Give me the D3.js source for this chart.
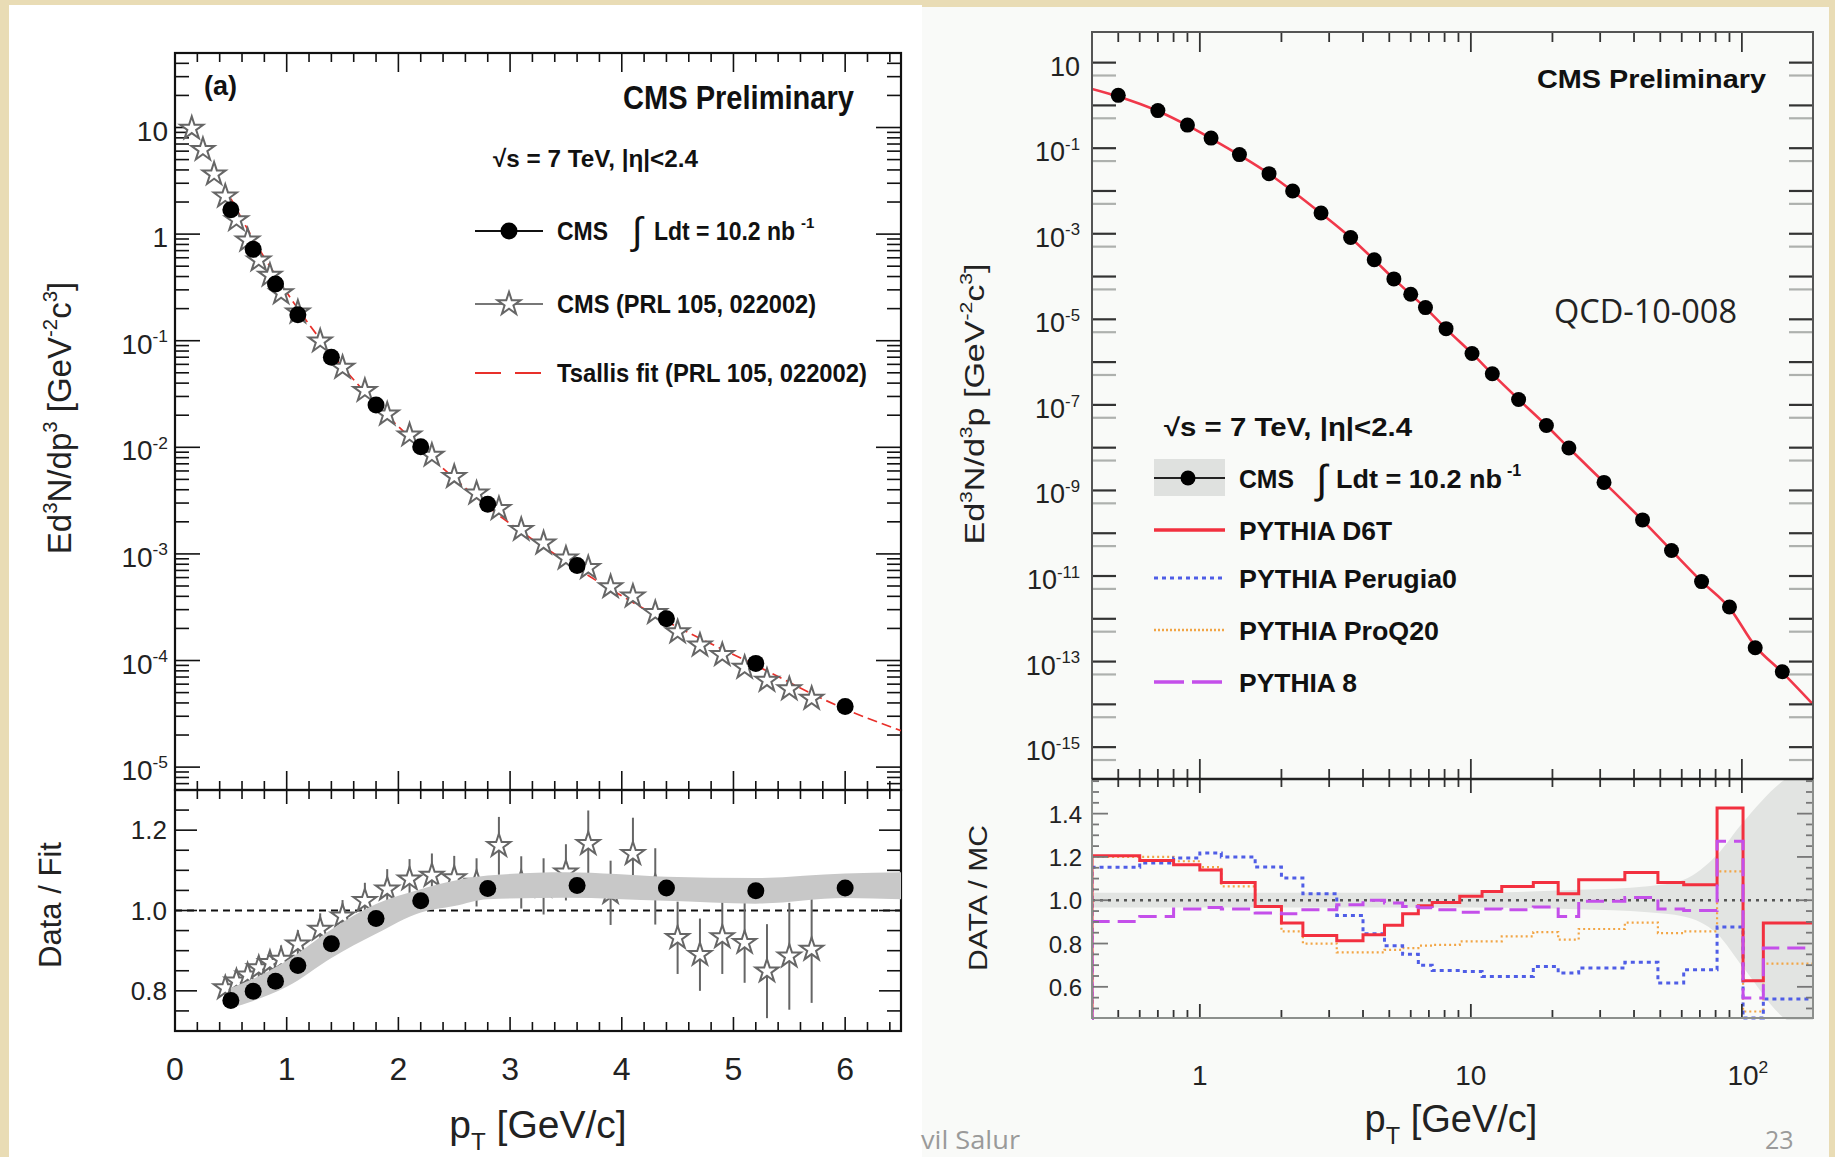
<!DOCTYPE html>
<html>
<head>
<meta charset="utf-8">
<script src="https://cdn.jsdelivr.net/npm/d3@7"></script>
<style>
  html, body { margin: 0; padding: 0; background: #e9dcb5; }
  svg { display: block; }
</style>
</head>
<body>
<svg id="chart" width="1835" height="1157"></svg>
<script>
// ---------- left panel (a): new CMS points, PRL 105 points, Tsallis fit ----------
const cmsPt = [0.5, 0.7, 0.9, 1.1, 1.4, 1.8, 2.2, 2.8, 3.6, 4.4, 5.2, 6.0];
const cmsYield = [1.69, 0.72, 0.34, 0.175, 0.070, 0.025, 0.0101, 0.00293, 7.8e-4, 2.47e-4, 9.4e-5, 3.7e-5];
const cmsOverFit = [0.776, 0.799, 0.824, 0.863, 0.917, 0.98, 1.024, 1.055, 1.062, 1.056, 1.049, 1.056];

const prlPt = [0.15, 0.25, 0.35, 0.45, 0.55, 0.65, 0.75, 0.85, 0.95, 1.1, 1.3, 1.5, 1.7, 1.9, 2.1, 2.3, 2.5,
  2.7, 2.9, 3.1, 3.3, 3.5, 3.7, 3.9, 4.1, 4.3, 4.5, 4.7, 4.9, 5.1, 5.3, 5.5, 5.7];
const prlYield = [9.8, 6.2, 3.65, 2.26, 1.36, 0.875, 0.57, 0.41, 0.28, 0.185, 0.099, 0.056, 0.034, 0.0204,
  0.013, 0.0084, 0.0053, 0.0037, 0.00265, 0.00169, 0.00126, 9.1e-4, 7.4e-4, 4.9e-4, 4.0e-4, 2.8e-4,
  1.85e-4, 1.39e-4, 1.13e-4, 8.6e-5, 6.5e-5, 5.4e-5, 4.4e-5];

const prlRatioPt = [0.45, 0.55, 0.65, 0.75, 0.85, 0.95, 1.1, 1.3, 1.5, 1.7, 1.9, 2.1, 2.3, 2.5, 2.7, 2.9,
  3.1, 3.3, 3.5, 3.7, 3.9, 4.1, 4.3, 4.5, 4.7, 4.9, 5.1, 5.3, 5.5, 5.7];
const prlRatio = [0.807, 0.824, 0.839, 0.857, 0.87, 0.878, 0.916, 0.953, 0.986, 1.024, 1.053, 1.078, 1.087,
  1.081, 1.07, 1.161, 1.07, 1.06, 1.095, 1.166, 1.044, 1.141, 1.06, 0.932, 0.89, 0.934, 0.92, 0.849, 0.886, 0.903];
const prlRatioErr = [0.03, 0.03, 0.03, 0.03, 0.03, 0.035, 0.035, 0.04, 0.04, 0.045, 0.05, 0.05, 0.055, 0.055,
  0.06, 0.072, 0.065, 0.07, 0.07, 0.083, 0.08, 0.09, 0.095, 0.09, 0.09, 0.092, 0.1, 0.117, 0.133, 0.133];

const fitPt = [0.5, 0.7, 0.9, 1.1, 1.4, 1.8, 2.2, 2.8, 3.6, 4.4, 5.2, 6.0, 6.5];
const fitYield = [2.15, 0.9, 0.41, 0.2, 0.076, 0.0255, 0.0099, 0.00278, 7.3e-4, 2.34e-4, 9.0e-5, 3.5e-5, 2.2e-5];

const fitBandPt = [0.5, 0.7, 1.0, 1.4, 1.8, 2.2, 2.5, 2.8, 3.5, 4.4, 5.2, 6.0, 6.5];
const fitBandLo = [0.757, 0.775, 0.81, 0.882, 0.942, 0.995, 1.011, 1.028, 1.032, 1.024, 1.017, 1.031, 1.028];
const fitBandHi = [0.807, 0.83, 0.875, 0.953, 1.016, 1.053, 1.074, 1.087, 1.095, 1.084, 1.081, 1.092, 1.095];

// ---------- right panel: QCD-10-008 spectrum and PYTHIA tunes ----------
const qcdPt = [0.5, 0.7, 0.9, 1.1, 1.4, 1.8, 2.2, 2.8, 3.6, 4.4, 5.2, 6.0, 6.8, 8.1, 10.1, 12, 15, 19, 23, 31,
  43, 55, 71, 90, 112, 141];
const qcdYield = [1.72, 0.757, 0.347, 0.172, 0.0708, 0.0254, 0.0100, 3.05e-3, 8.15e-4, 2.47e-4, 8.8e-5,
  3.86e-5, 1.88e-5, 6.06e-6, 1.59e-6, 5.33e-7, 1.34e-7, 3.3e-8, 9.8e-9, 1.54e-9, 2.05e-10, 3.95e-11,
  7.4e-12, 1.89e-12, 2.11e-13, 5.8e-14];

const d6tPt = [0.4, 0.5, 0.7, 0.9, 1.1, 1.4, 1.8, 2.2, 2.8, 3.6, 4.4, 5.2, 6.0, 6.8, 8.1, 10.1, 12, 15, 19,
  23, 31, 43, 55, 71, 90, 112, 141, 183];
const d6tYield = [2.43, 1.62, 0.74, 0.34, 0.168, 0.069, 0.0252, 0.0099, 3.0e-3, 8.1e-4, 2.45e-4, 8.8e-5,
  3.8e-5, 1.85e-5, 6.0e-6, 1.6e-6, 5.3e-7, 1.35e-7, 3.3e-8, 9.8e-9, 1.55e-9, 2.0e-10, 3.95e-11, 7.5e-12,
  1.8e-12, 2.3e-13, 5.6e-14, 1.0e-14];

const binEdges = [0.4, 0.6, 0.8, 1.0, 1.2, 1.6, 2.0, 2.4, 3.2, 4.0, 4.8, 5.6, 6.4, 7.2, 9.1, 11, 13, 17, 21,
  25, 37, 49, 61, 81, 101, 120, 183];
const d6tRatio = [1.205, 1.184, 1.164, 1.14, 1.082, 0.971, 0.895, 0.837, 0.813, 0.841, 0.885, 0.938, 0.975,
  0.99, 1.018, 1.04, 1.064, 1.082, 1.03, 1.095, 1.128, 1.082, 1.072, 1.426, 0.628, 0.895];
const perugiaRatio = [1.152, 1.172, 1.195, 1.218, 1.2, 1.153, 1.103, 1.03, 0.93, 0.845, 0.79, 0.75, 0.70,
  0.675, 0.671, 0.648, 0.648, 0.694, 0.664, 0.687, 0.713, 0.618, 0.679, 0.876, 0.456, 0.544];
const proq20Ratio = [1.2, 1.2, 1.18, 1.153, 1.064, 0.971, 0.856, 0.80, 0.759, 0.759, 0.771, 0.779, 0.79,
  0.794, 0.81, 0.81, 0.833, 0.853, 0.818, 0.867, 0.897, 0.848, 0.856, 1.133, 0.486, 0.707];
const pythia8Ratio = [0.902, 0.925, 0.96, 0.967, 0.96, 0.941, 0.938, 0.956, 0.979, 1.0, 0.987, 0.971, 0.965,
  0.956, 0.944, 0.96, 0.956, 0.969, 0.925, 0.995, 1.013, 0.96, 0.953, 1.272, 0.548, 0.779];

const dataBandPt = [0.4, 10, 25, 45, 61, 81, 101, 145, 183];
const dataBandLo = [0.967, 0.967, 0.958, 0.945, 0.925, 0.845, 0.69, 0.45, 0.40];
const dataBandHi = [1.035, 1.035, 1.048, 1.065, 1.095, 1.21, 1.36, 1.56, 1.62];

// tick labels
const leftYExp = [1, 0, -1, -2, -3, -4, -5];
const leftXLabels = [0, 1, 2, 3, 4, 5, 6];
const leftRatioLabels = ['0.8', '1.0', '1.2'];
const rightYExp = [1, -1, -3, -5, -7, -9, -11, -13, -15];
const rightXLabels = [1, 10, 100];
const rightRatioLabels = ['0.6', '0.8', '1.0', '1.2', '1.4'];

// ---------- drawing ----------
const SANS = '"Liberation Sans", Arial, Helvetica, sans-serif';
const NARROW = '"Liberation Sans Narrow", "Liberation Sans", Arial, sans-serif';
const svg = d3.select('#chart');

function addText(g, x, y, parts, o) {
  const size = o.size;
  const t = g.append('text')
    .attr('x', x).attr('y', y)
    .attr('font-size', size)
    .attr('font-family', o.family || SANS)
    .attr('font-weight', o.weight || 400)
    .attr('fill', o.fill || '#111')
    .attr('text-anchor', o.anchor || 'start');
  if (o.len) t.attr('textLength', o.len).attr('lengthAdjust', 'spacingAndGlyphs');
  if (o.rot) t.attr('transform', `rotate(-90 ${x} ${y})`);
  let shift = 0;
  for (const p of parts) {
    const part = typeof p === 'string' ? {t: p} : p;
    const target = part.s === 'sup' ? -0.42 * size : part.s === 'sub' ? 0.32 * size : 0;
    t.append('tspan')
      .attr('dy', target - shift)
      .attr('font-size', part.s ? size * 0.62 : size)
      .text(part.t);
    shift = target;
  }
  return t;
}

function ticks(g, list, stroke, width) {
  g.append('g').selectAll('line').data(list).join('line')
    .attr('x1', d => d[0]).attr('y1', d => d[1])
    .attr('x2', d => d[2]).attr('y2', d => d[3])
    .attr('stroke', d => d[4] || stroke)
    .attr('stroke-width', width);
}

// backgrounds
svg.append('rect').attr('width', 1835).attr('height', 1157).attr('fill', '#e9dcb5');
svg.append('rect').attr('x', 9).attr('y', 5).attr('width', 913).attr('height', 1152).attr('fill', '#ffffff');
svg.append('rect').attr('x', 922).attr('y', 7).attr('width', 907).attr('height', 1150).attr('fill', '#f9faf8');

// ================= LEFT PANEL =================
const L = {x0: 175, x1: 901, top: 53, mid: 790, bot: 1031};
const xL = d3.scaleLinear().domain([0, 6.5]).range([L.x0, L.x1]);
const yL = d3.scaleLog().domain([6.1e-6, 50]).range([L.mid, L.top]);
const rL = d3.scaleLinear().domain([0.7, 1.3]).range([L.bot, L.mid]);

const gl = svg.append('g');
svg.append('defs').call(d => {
  d.append('clipPath').attr('id', 'clipLU').append('rect')
    .attr('x', L.x0).attr('y', L.top).attr('width', L.x1 - L.x0).attr('height', L.mid - L.top);
  d.append('clipPath').attr('id', 'clipLR').append('rect')
    .attr('x', L.x0).attr('y', L.mid).attr('width', L.x1 - L.x0).attr('height', L.bot - L.mid);
  d.append('clipPath').attr('id', 'clipRU').append('rect')
    .attr('x', 1092).attr('y', 32).attr('width', 721).attr('height', 747);
  d.append('clipPath').attr('id', 'clipRR').append('rect')
    .attr('x', 1092).attr('y', 779).attr('width', 721).attr('height', 241);
});

// x ticks (every 0.2, major at integers)
const xtl = d3.range(0, 33).map(i => i * 0.2);
const xtList = [];
xtl.forEach(v => {
  const x = xL(v), maj = Math.abs(v - Math.round(v)) < 1e-6;
  const a = maj ? 19 : 9, b = maj ? 14 : 9;
  xtList.push([x, L.top, x, L.top + a]);
  xtList.push([x, L.mid, x, L.mid - a]);
  xtList.push([x, L.mid, x, L.mid + b]);
  xtList.push([x, L.bot, x, L.bot - b]);
});
ticks(gl, xtList, '#111', 1.6);

// log y ticks
const ytList = [];
for (let e = -6; e <= 1; e++) {
  for (let m = 1; m <= 9; m++) {
    const v = m * Math.pow(10, e);
    if (v < 6.1e-6 || v > 50) continue;
    const len = m === 1 ? 25 : 14, y = yL(v);
    ytList.push([L.x0, y, L.x0 + len, y]);
    ytList.push([L.x1, y, L.x1 - len, y]);
  }
}
ticks(gl, ytList, '#111', 1.6);

// ratio y ticks
const rtList = [];
d3.range(0, 13).map(i => 0.7 + i * 0.05).forEach(v => {
  const maj = [0.8, 1.0, 1.2].some(m => Math.abs(m - v) < 1e-6);
  const len = maj ? 22 : 14, y = rL(v);
  rtList.push([L.x0, y, L.x0 + len, y]);
  rtList.push([L.x1, y, L.x1 - len, y]);
});
ticks(gl, rtList, '#111', 1.6);

// frames
gl.append('rect').attr('x', L.x0).attr('y', L.top).attr('width', L.x1 - L.x0).attr('height', L.mid - L.top)
  .attr('fill', 'none').attr('stroke', '#111').attr('stroke-width', 2.2);
gl.append('rect').attr('x', L.x0).attr('y', L.mid).attr('width', L.x1 - L.x0).attr('height', L.bot - L.mid)
  .attr('fill', 'none').attr('stroke', '#111').attr('stroke-width', 2.2);

const star = d3.symbol().type(d3.symbolStar).size(165);

// upper: fit, stars, dots
const gu = gl.append('g').attr('clip-path', 'url(#clipLU)');
gu.append('path')
  .datum(fitPt.map((p, i) => [p, fitYield[i]]))
  .attr('d', d3.line().x(d => xL(d[0])).y(d => yL(d[1])).curve(d3.curveMonotoneX))
  .attr('fill', 'none').attr('stroke', '#e8302a').attr('stroke-width', 1.7).attr('stroke-dasharray', '10,5');
gu.selectAll('path.star').data(prlPt.map((p, i) => [p, prlYield[i]])).join('path')
  .attr('class', 'star')
  .attr('transform', d => `translate(${xL(d[0])},${yL(d[1])})`)
  .attr('d', star).attr('fill', '#fff').attr('stroke', '#666').attr('stroke-width', 2);
gu.selectAll('circle').data(cmsPt.map((p, i) => [p, cmsYield[i]])).join('circle')
  .attr('cx', d => xL(d[0])).attr('cy', d => yL(d[1])).attr('r', 8.5).attr('fill', '#000');

// ratio panel
const gr = gl.append('g').attr('clip-path', 'url(#clipLR)');
gr.append('line').attr('x1', L.x0).attr('x2', L.x1).attr('y1', rL(1)).attr('y2', rL(1))
  .attr('stroke', '#111').attr('stroke-width', 1.8).attr('stroke-dasharray', '7,5');
const prlR = prlRatioPt.map((p, i) => ({p, r: prlRatio[i], e: prlRatioErr[i]}));
gr.selectAll('line.err').data(prlR).join('line').attr('class', 'err')
  .attr('x1', d => xL(d.p)).attr('x2', d => xL(d.p))
  .attr('y1', d => rL(d.r - d.e)).attr('y2', d => rL(d.r + d.e))
  .attr('stroke', '#666').attr('stroke-width', 2);
gr.selectAll('path.star').data(prlR).join('path').attr('class', 'star')
  .attr('transform', d => `translate(${xL(d.p)},${rL(d.r)})`)
  .attr('d', star).attr('fill', '#fff').attr('stroke', '#666').attr('stroke-width', 2);
gr.append('path')
  .datum(fitBandPt.map((p, i) => [p, fitBandLo[i], fitBandHi[i]]))
  .attr('d', d3.area().x(d => xL(d[0])).y0(d => rL(d[1])).y1(d => rL(d[2])).curve(d3.curveMonotoneX))
  .attr('fill', '#c8c8c8');
gr.selectAll('circle').data(cmsPt.map((p, i) => [p, cmsOverFit[i]])).join('circle')
  .attr('cx', d => xL(d[0])).attr('cy', d => rL(d[1])).attr('r', 8.5).attr('fill', '#000');

// left labels
leftYExp.forEach(e => {
  const parts = e === 1 ? ['10'] : e === 0 ? ['1'] : ['10', {t: String(e), s: 'sup'}];
  addText(gl, 168, yL(Math.pow(10, e)) + 13, parts, {size: 28, anchor: 'end', fill: '#222'});
});
leftRatioLabels.forEach(l => addText(gl, 167, rL(+l) + 9, [l], {size: 26, anchor: 'end', fill: '#222'}));
leftXLabels.forEach(v => addText(gl, xL(v), 1080, [String(v)], {size: 32, anchor: 'middle', fill: '#222'}));
addText(gl, 538, 1138, ['p', {t: 'T', s: 'sub'}, ' [GeV/c]'], {size: 39, anchor: 'middle', fill: '#222'});
addText(gl, 71, 418, ['Ed', {t: '3', s: 'sup'}, 'N/dp', {t: '3', s: 'sup'}, ' [GeV', {t: '-2', s: 'sup'},
  'c', {t: '3', s: 'sup'}, ']'], {size: 33, anchor: 'middle', rot: true, fill: '#222'});
addText(gl, 61, 905, ['Data / Fit'], {size: 31, anchor: 'middle', rot: true, fill: '#222'});

addText(gl, 204, 95, ['(a)'], {size: 27, family: NARROW, weight: 700, len: 33});
addText(gl, 623, 109, ['CMS Preliminary'], {size: 34, family: NARROW, weight: 700, len: 231});
addText(gl, 493, 167, ['\u221As = 7 TeV,  |\u03B7|<2.4'], {size: 24, family: NARROW, weight: 700, len: 205});

// left legend
const legL = [{y: 231, kind: 'dot'}, {y: 304, kind: 'star'}, {y: 373, kind: 'fit'}];
legL.forEach(r => {
  const ln = gl.append('line').attr('x1', 475).attr('x2', 543).attr('y1', r.y).attr('y2', r.y);
  if (r.kind === 'dot') {
    ln.attr('stroke', '#111').attr('stroke-width', 2);
    gl.append('circle').attr('cx', 509).attr('cy', r.y).attr('r', 8.5).attr('fill', '#000');
  } else if (r.kind === 'star') {
    ln.attr('stroke', '#777').attr('stroke-width', 2);
    gl.append('path').attr('transform', `translate(509,${r.y})`).attr('d', star)
      .attr('fill', '#fff').attr('stroke', '#666').attr('stroke-width', 2);
  } else {
    ln.attr('stroke', '#e8302a').attr('stroke-width', 2).attr('stroke-dasharray', '26,14');
  }
});
addText(gl, 557, 240, ['CMS'], {size: 25, family: NARROW, weight: 700, len: 51});
addText(gl, 632, 244, ['\u222B'], {size: 38, family: SANS, weight: 400});
addText(gl, 654, 240, ['Ldt = 10.2 nb'], {size: 25, family: NARROW, weight: 700, len: 141});
addText(gl, 801, 228, ['-1'], {size: 15, family: NARROW, weight: 700});
addText(gl, 557, 313, ['CMS (PRL 105, 022002)'], {size: 25, family: NARROW, weight: 700, len: 259});
addText(gl, 557, 382, ['Tsallis fit (PRL 105, 022002)'], {size: 25, family: NARROW, weight: 700, len: 310});

// ================= RIGHT PANEL =================
const R = {x0: 1092, x1: 1813, top: 32, mid: 779, bot: 1018};
const xR = d3.scaleLog().domain([0.4, 183]).range([R.x0, R.x1]);
const yR = d3.scaleLog().domain([1.8e-16, 52]).range([R.mid, R.top]);
const rR = d3.scaleLinear().domain([0.456, 1.56]).range([R.bot, R.mid]);
const g2 = svg.append('g');

// ratio band + histograms
const g2r = g2.append('g').attr('clip-path', 'url(#clipRR)');
g2r.append('path')
  .datum(dataBandPt.map((p, i) => [p, dataBandLo[i], dataBandHi[i]]))
  .attr('d', d3.area().x(d => xR(d[0])).y0(d => rR(d[1])).y1(d => rR(d[2])).curve(d3.curveMonotoneX))
  .attr('fill', '#e2e4e2');
g2r.append('line').attr('x1', R.x0).attr('x2', R.x1).attr('y1', rR(1)).attr('y2', rR(1))
  .attr('stroke', '#555').attr('stroke-width', 2.4).attr('stroke-dasharray', '3,5');

function histPoints(vals) {
  const pts = [[binEdges[0], 0.3]];
  vals.forEach((v, i) => pts.push([binEdges[i], v], [binEdges[i + 1], v]));
  return pts;
}
const histLine = d3.line().x(d => xR(d[0])).y(d => rR(d[1]));
const series = [
  {vals: proq20Ratio, color: '#f2a545', w: 2.2, dash: '2,3'},
  {vals: perugiaRatio, color: '#4f5de6', w: 3, dash: '4,4'},
  {vals: d6tRatio, color: '#f2303f', w: 3, dash: null},
  {vals: pythia8Ratio, color: '#c44fea', w: 3, dash: '18,8'}
];
series.forEach(s => {
  g2r.append('path').datum(histPoints(s.vals)).attr('d', histLine)
    .attr('fill', 'none').attr('stroke', s.color).attr('stroke-width', s.w)
    .attr('stroke-dasharray', s.dash);
});

// upper: D6T curve + data
const g2u = g2.append('g').attr('clip-path', 'url(#clipRU)');
g2u.append('path').datum(d6tPt.map((p, i) => [p, d6tYield[i]]))
  .attr('d', d3.line().x(d => xR(d[0])).y(d => yR(d[1])).curve(d3.curveMonotoneX))
  .attr('fill', 'none').attr('stroke', '#f0384a').attr('stroke-width', 2.6);
g2u.selectAll('circle').data(qcdPt.map((p, i) => [p, qcdYield[i]])).join('circle')
  .attr('cx', d => xR(d[0])).attr('cy', d => yR(d[1])).attr('r', 7.5).attr('fill', '#000');

// right x ticks
const rxList = [];
for (let e = -1; e <= 2; e++) {
  for (let m = 1; m <= 9; m++) {
    const v = m * Math.pow(10, e);
    if (v < 0.4 || v > 183) continue;
    const x = xR(v), maj = m === 1;
    const a = maj ? 20 : 10, b = maj ? 14 : 8;
    rxList.push([x, R.top, x, R.top + a]);
    rxList.push([x, R.mid, x, R.mid - a]);
    rxList.push([x, R.mid, x, R.mid + b]);
    rxList.push([x, R.bot, x, R.bot - b]);
  }
}
ticks(g2, rxList, '#333', 1.8);

// right log y ticks (decades dark, 5x lighter)
const ryList = [];
for (let e = -16; e <= 1; e++) {
  [1, 5].forEach(m => {
    const v = m * Math.pow(10, e);
    if (v < 1.8e-16 || v > 49) return;
    const y = yR(v), c = m === 1 ? '#333' : '#aeb1ae';
    ryList.push([R.x0, y, R.x0 + 24, y, c]);
    ryList.push([R.x1, y, R.x1 - 24, y, c]);
  });
}
ticks(g2, ryList, '#333', 2.2);

// right ratio y ticks
const rrList = [];
d3.range(0, 22).map(i => 0.5 + i * 0.05).forEach(v => {
  const maj = [0.6, 0.8, 1.0, 1.2, 1.4].some(m => Math.abs(m - v) < 1e-6);
  const len = maj ? 16 : 7, y = rR(v);
  rrList.push([R.x0, y, R.x0 + len, y]);
  rrList.push([R.x1, y, R.x1 - len, y]);
});
ticks(g2, rrList, '#777', 1.8);

// right frames
g2.append('path').attr('d', `M${R.x0},${R.mid}V${R.top}H${R.x1}V${R.mid}`)
  .attr('fill', 'none').attr('stroke', '#555').attr('stroke-width', 2);
g2.append('path').attr('d', `M${R.x0},${R.mid}V${R.bot}H${R.x1}V${R.mid}`)
  .attr('fill', 'none').attr('stroke', '#8c8f8c').attr('stroke-width', 2);
g2.append('line').attr('x1', R.x0).attr('x2', R.x1).attr('y1', R.mid).attr('y2', R.mid)
  .attr('stroke', '#222').attr('stroke-width', 2.6);

// right labels
rightYExp.forEach(e => {
  const parts = e === 1 ? ['10'] : ['10', {t: String(e), s: 'sup'}];
  addText(g2, 1080, yR(Math.pow(10, e)) + 13, parts, {size: 27, anchor: 'end', fill: '#222'});
});
rightRatioLabels.forEach(l => addText(g2, 1082, rR(+l) + 9, [l], {size: 24, anchor: 'end', fill: '#222'}));
rightXLabels.forEach(v => {
  const parts = v === 100 ? ['10', {t: '2', s: 'sup'}] : [String(v)];
  addText(g2, xR(v) + (v === 100 ? 6 : 0), 1085, parts, {size: 28, anchor: 'middle', fill: '#222'});
});
addText(g2, 1451, 1132, ['p', {t: 'T', s: 'sub'}, ' [GeV/c]'], {size: 38, anchor: 'middle', fill: '#222'});
addText(g2, 984, 404, ['Ed', {t: '3', s: 'sup'}, 'N/d', {t: '3', s: 'sup'}, 'p [GeV', {t: '-2', s: 'sup'},
  'c', {t: '3', s: 'sup'}, ']'], {size: 28, anchor: 'middle', rot: true, fill: '#222', len: 281});
addText(g2, 987, 898, ['DATA / MC'], {size: 26, anchor: 'middle', rot: true, fill: '#222', len: 146});

addText(g2, 1537, 88, ['CMS Preliminary'], {size: 26, weight: 700, len: 229});
addText(g2, 1554, 323, ['QCD-10-008'], {size: 32, family: '"Open Sans", sans-serif', fill: '#222', len: 183});
addText(g2, 1164, 436, ['\u221As = 7 TeV,   |\u03B7|<2.4'], {size: 25, weight: 700, len: 248});

// right legend
g2.append('rect').attr('x', 1154).attr('y', 459).attr('width', 71).attr('height', 37).attr('fill', '#dfe1df');
g2.append('line').attr('x1', 1154).attr('x2', 1225).attr('y1', 478).attr('y2', 478)
  .attr('stroke', '#222').attr('stroke-width', 2);
g2.append('circle').attr('cx', 1188).attr('cy', 478).attr('r', 7.5).attr('fill', '#000');
const legR = [
  {y: 530, color: '#f2303f', w: 3.5, dash: null, label: 'PYTHIA D6T', len: 153},
  {y: 578, color: '#4f5de6', w: 3, dash: '4,4', label: 'PYTHIA Perugia0', len: 218},
  {y: 630, color: '#f2a545', w: 2.5, dash: '2,2', label: 'PYTHIA ProQ20', len: 200},
  {y: 682, color: '#c44fea', w: 3.5, dash: '30,8', label: 'PYTHIA 8', len: 118}
];
legR.forEach(r => {
  g2.append('line').attr('x1', 1154).attr('x2', 1225).attr('y1', r.y).attr('y2', r.y)
    .attr('stroke', r.color).attr('stroke-width', r.w).attr('stroke-dasharray', r.dash);
  addText(g2, 1239, r.y + 10, [r.label], {size: 26, weight: 700, len: r.len});
});
addText(g2, 1239, 488, ['CMS'], {size: 26, weight: 700, len: 55});
addText(g2, 1316, 493, ['\u222B'], {size: 40, weight: 400});
addText(g2, 1336, 488, ['Ldt = 10.2 nb'], {size: 26, weight: 700, len: 166});
addText(g2, 1507, 476, ['-1'], {size: 16, weight: 700});

// footer
addText(svg, 921, 1149, ['vil Salur'], {size: 25, family: '"Open Sans", sans-serif', fill: '#9a9a9a', len: 99});
addText(svg, 1765, 1149, ['23'], {size: 25, family: '"Open Sans", sans-serif', fill: '#9a9a9a'});
</script>
</body>
</html>
